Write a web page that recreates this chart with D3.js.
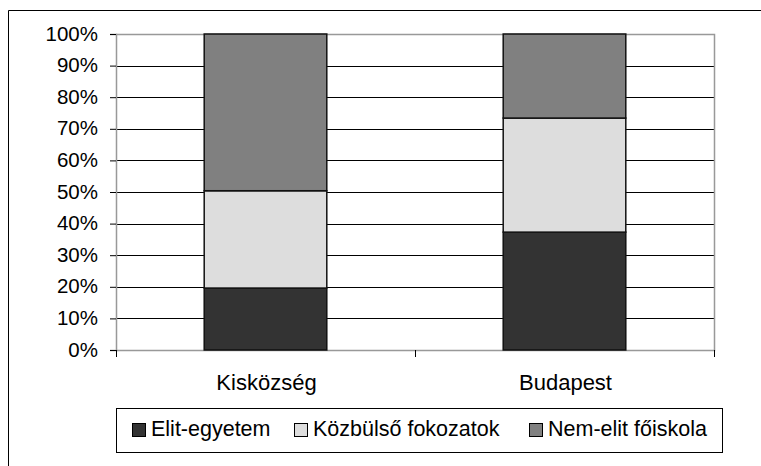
<!DOCTYPE html>
<html>
<head>
<meta charset="utf-8">
<script src="https://cdn.jsdelivr.net/npm/d3@7"></script>
<style>
  html, body { margin: 0; padding: 0; background: #fff; }
  svg text { font-family: "Liberation Sans", Arial, sans-serif; fill: #000; }
</style>
</head>
<body>
<svg id="chart" width="761" height="466"></svg>
<script>
// Categories and stacked shares (percent)
const categories = ["Kisközség", "Budapest"];
const seriesNames = ["Elit-egyetem", "Közbülső fokozatok", "Nem-elit főiskola"];
const eliteValues = [19.6, 37.3];
const middleValues = [30.8, 36.1];
const nonEliteValues = [49.6, 26.6];
const yTicks = [0, 10, 20, 30, 40, 50, 60, 70, 80, 90, 100];

const colors = ["#333333", "#dddddd", "#808080"];

const rows = categories.map((c, i) => ({
  cat: c,
  "Elit-egyetem": eliteValues[i],
  "Közbülső fokozatok": middleValues[i],
  "Nem-elit főiskola": nonEliteValues[i]
}));

const svg = d3.select("#chart");
const plot = { left: 116, right: 714, top: 34, bottom: 350 };

// Outer frame (only left and top edges fall inside the canvas)
svg.append("path")
  .attr("d", "M8.5,466 V10.5 H761")
  .attr("fill", "none").attr("stroke", "#000").attr("stroke-width", 1);

const x = d3.scaleBand()
  .domain(categories)
  .range([plot.left, plot.right])
  .paddingInner(0.59)
  .paddingOuter(0.295);

const y = d3.scaleLinear().domain([0, 100]).range([plot.bottom, plot.top]);

// Horizontal gridlines
svg.append("g")
  .selectAll("line")
  .data(yTicks.filter(t => t > 0 && t < 100))
  .join("line")
  .attr("x1", plot.left).attr("x2", plot.right)
  .attr("y1", d => Math.round(y(d)) + 0.5).attr("y2", d => Math.round(y(d)) + 0.5)
  .attr("stroke", "#000").attr("stroke-width", 1);

// Plot area border (top, right, bottom) in gray
svg.append("path")
  .attr("d", `M${plot.left},${plot.top + 0.5} H${plot.right + 0.5} V${plot.bottom + 0.5} H${plot.left}`)
  .attr("fill", "none").attr("stroke", "#999").attr("stroke-width", 1.5);

// Stacked bars
const stack = d3.stack().keys(seriesNames);
const layers = stack(rows);

svg.append("g")
  .selectAll("g")
  .data(layers)
  .join("g")
  .attr("fill", (d, i) => colors[i])
  .selectAll("rect")
  .data(d => d)
  .join("rect")
  .attr("x", d => x(d.data.cat))
  .attr("width", x.bandwidth())
  .attr("y", d => y(d[1]))
  .attr("height", d => y(d[0]) - y(d[1]))
  .attr("stroke", "#111")
  .attr("stroke-width", 1.5);

// Y axis
const yAxis = svg.append("g")
  .attr("transform", `translate(${plot.left},0)`)
  .call(d3.axisLeft(y).tickValues(yTicks).tickFormat(d => d + "%").tickSize(6).tickPadding(12));
yAxis.select(".domain").attr("stroke", "#999").attr("stroke-width", 1.5);
yAxis.selectAll(".tick line").attr("stroke", "#000");
yAxis.selectAll(".tick text")
  .attr("font-size", 20.5)
  .attr("dy", "0.3em")
  .style("font-family", "'Liberation Sans', Arial, sans-serif");

// X axis: tick marks at category boundaries
const boundaries = [plot.left, (plot.left + plot.right) / 2, plot.right];
svg.append("g")
  .selectAll("line")
  .data(boundaries)
  .join("line")
  .attr("x1", d => Math.round(d) + 0.5).attr("x2", d => Math.round(d) + 0.5)
  .attr("y1", plot.bottom).attr("y2", plot.bottom + 7)
  .attr("stroke", "#000").attr("stroke-width", 1);

// Category labels
svg.append("g")
  .selectAll("text")
  .data(categories)
  .join("text")
  .attr("x", d => x(d) + x.bandwidth() / 2 + 1)
  .attr("y", 390)
  .attr("text-anchor", "middle")
  .attr("font-size", 22)
  .text(d => d);

// Legend
const legend = svg.append("g");
legend.append("rect")
  .attr("x", 116.5).attr("y", 408.5).attr("width", 606).attr("height", 44)
  .attr("fill", "#fff").attr("stroke", "#000").attr("stroke-width", 1);

const legendX = [132, 294, 529];
const items = legend.selectAll("g.item")
  .data(seriesNames)
  .join("g")
  .attr("class", "item")
  .attr("transform", (d, i) => `translate(${legendX[i]},0)`);
items.append("rect")
  .attr("x", 0.5).attr("y", 423.5).attr("width", 13).attr("height", 13)
  .attr("fill", (d, i) => colors[i]).attr("stroke", "#000").attr("stroke-width", 1);
items.append("text")
  .attr("x", 19).attr("y", 436)
  .attr("font-size", 21.5)
  .text(d => d);
</script>
</body>
</html>
